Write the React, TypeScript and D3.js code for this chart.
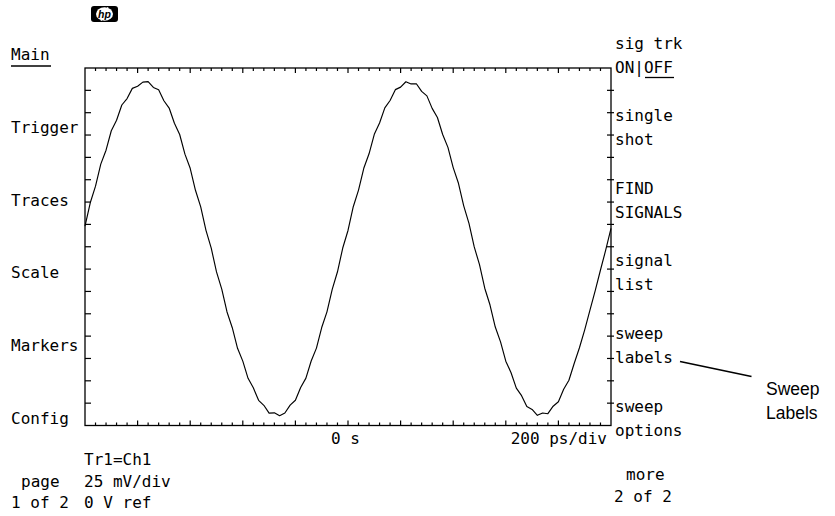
import React from "react";
import * as d3 from "d3";

// ---- data ----
const timeStartPs = -1000;
const timeStepPs = 20;
const traceMv = [
  11.5, 24.6, 33.9, 46.2, 54.0, 64.9, 70.8, 79.3, 82.9, 88.6,
  89.8, 92.1, 92.4, 89.1, 87.8, 81.7, 77.6, 69.1, 62.8, 51.8,
  43.9, 31.6, 22.3, 9.2, -0.8, -14.1, -23.7, -36.5, -45.3, -56.8,
  -64.0, -73.6, -78.9, -85.9, -88.7, -93.1, -92.9, -94.5, -93.0, -88.6,
  -85.9, -78.7, -73.5, -63.9, -56.7, -45.2, -36.4, -23.8, -14.0, -0.7,
  9.1, 22.4, 31.7, 43.9, 52.0, 62.9, 69.2, 77.7, 81.8, 87.9,
  89.3, 92.3, 91.1, 91.2, 86.9, 84.4, 77.4, 72.3, 62.8, 55.6,
  44.3, 35.5, 22.9, 13.1, -0.1, -10.0, -23.2, -32.6, -44.9, -53.2,
  -64.0, -70.5, -79.1, -83.3, -89.4, -91.0, -94.3, -93.0, -93.4, -89.2,
  -86.7, -79.7, -74.7, -65.3, -56.5, -46.5, -35.5, -24.5, -13.0, -1.8,
  10.3,
];
const timeDomainPs = [-1000, 1000];
const voltDomainMv = [-100, 100];
const timeMinorStepPs = 40;
const timeMajorStepPs = 200;
const voltTickStepMv = 12.5;

const leftMenu = ["Main", "Trigger", "Traces", "Scale", "Markers", "Config"];
const rightMenu = [
  ["sig trk", "ON|OFF"],
  ["single", "shot"],
  ["FIND", "SIGNALS"],
  ["signal", "list"],
  ["sweep", "labels"],
  ["sweep", "options"],
];
const traceInfo = ["Tr1=Ch1", "25 mV/div", "0 V ref"];
const timeCenterLabel = "0 s";
const timeScaleLabel = "200 ps/div";
const pageLabel = ["page", "1 of 2"];
const moreLabel = ["more", "2 of 2"];
const calloutLabel = ["Sweep", "Labels"];

const MONO = "'DejaVu Sans Mono', monospace";
const SANS = "'Liberation Sans', Arial, sans-serif";

export default function App() {
  const left = 85, right = 611, top = 68, bottom = 425.5;
  const x = d3.scaleLinear().domain(timeDomainPs).range([left, right]);
  const y = d3.scaleLinear().domain(voltDomainMv).range([bottom, top]);

  const points: [number, number][] = traceMv.map((v, i) => [timeStartPs + i * timeStepPs, v]);
  const line = d3.line<[number, number]>().x((d) => x(d[0])).y((d) => y(d[1]));

  const tTicks = d3.range(timeDomainPs[0] + timeMinorStepPs, timeDomainPs[1], timeMinorStepPs);
  const vTicks = d3.range(voltDomainMv[0] + voltTickStepMv, voltDomainMv[1] - 0.01, voltTickStepMv);
  const isMajor = (t: number) => Math.abs(t % timeMajorStepPs) < 1e-6;

  const rowPitch = 72.8;
  const fs = 16;
  const stroke = "#000";

  return (
    <svg
      width={835}
      height={516}
      style={{ position: "absolute", left: 0, top: 0, background: "#fff" }}
      fontFamily={MONO}
      fontSize={fs}
    >
      <rect width={835} height={516} fill="#fff" />
      {/* hp logo */}
      <g>
        <rect x={91} y={6} width={27} height={16} rx={3} fill="#000" />
        <ellipse cx={104.5} cy={14} rx={8.5} ry={6.8} fill="#fff" />
        <line x1={101} y1={21} x2={108} y2={7} stroke="#fff" strokeWidth={1} />
        <text x={104.5} y={17.8} textAnchor="middle" fontFamily={SANS} fontStyle="italic" fontWeight="bold" fontSize={10.5} fill="#000">
          hp
        </text>
      </g>

      {/* frame */}
      <rect x={left} y={top} width={right - left} height={bottom - top} fill="none" stroke={stroke} strokeWidth={1.3} />
      {tTicks.map((t) => (
        <g key={"t" + t}>
          <line x1={x(t)} x2={x(t)} y1={top} y2={top + (isMajor(t) ? 5 : 3)} stroke={stroke} strokeWidth={1.2} />
          <line x1={x(t)} x2={x(t)} y1={bottom} y2={bottom - (isMajor(t) ? 5 : 3)} stroke={stroke} strokeWidth={1.2} />
        </g>
      ))}
      {vTicks.map((v) => (
        <g key={"v" + v}>
          <line x1={left} x2={left + 6} y1={y(v)} y2={y(v)} stroke={stroke} strokeWidth={1.2} />
          <line x1={right - 4} x2={right + 3} y1={y(v)} y2={y(v)} stroke={stroke} strokeWidth={1.2} />
        </g>
      ))}

      {/* trace */}
      <path d={line(points) || ""} fill="none" stroke={stroke} strokeWidth={1.15} strokeLinejoin="round" />

      {/* left menu */}
      {leftMenu.map((s, i) => (
        <text key={s} x={11} y={60 + i * rowPitch} fill="#000">
          {s}
        </text>
      ))}
      <line x1={11} x2={51} y1={66} y2={66} stroke={stroke} strokeWidth={1.3} />

      {/* right menu */}
      {rightMenu.map((pair, i) => (
        <g key={i}>
          <text x={615} y={48.5 + i * 72.6} fill="#000">{pair[0]}</text>
          <text x={615} y={72.5 + i * 72.6} fill="#000">{pair[1]}</text>
        </g>
      ))}
      <line x1={645} x2={674} y1={77.5} y2={77.5} stroke={stroke} strokeWidth={1.3} />

      {/* axis labels */}
      <text x={331} y={444} fill="#000">{timeCenterLabel}</text>
      <text x={607} y={444} textAnchor="end" fill="#000">{timeScaleLabel}</text>

      {/* trace info */}
      {traceInfo.map((s, i) => (
        <text key={s} x={84} y={465 + i * 21.5} fill="#000">{s}</text>
      ))}
      <text x={21} y={486.5} fill="#000">{pageLabel[0]}</text>
      <text x={11} y={508} fill="#000">{pageLabel[1]}</text>
      <text x={626} y={480} fill="#000">{moreLabel[0]}</text>
      <text x={614} y={501.5} fill="#000">{moreLabel[1]}</text>

      {/* callout */}
      <line x1={680} y1={361.5} x2={751.5} y2={376.5} stroke={stroke} strokeWidth={1.6} />
      <text x={766} y={395} fontFamily={SANS} fontSize={17.5} fill="#000">{calloutLabel[0]}</text>
      <text x={766} y={419} fontFamily={SANS} fontSize={17.5} fill="#000">{calloutLabel[1]}</text>
    </svg>
  );
}
